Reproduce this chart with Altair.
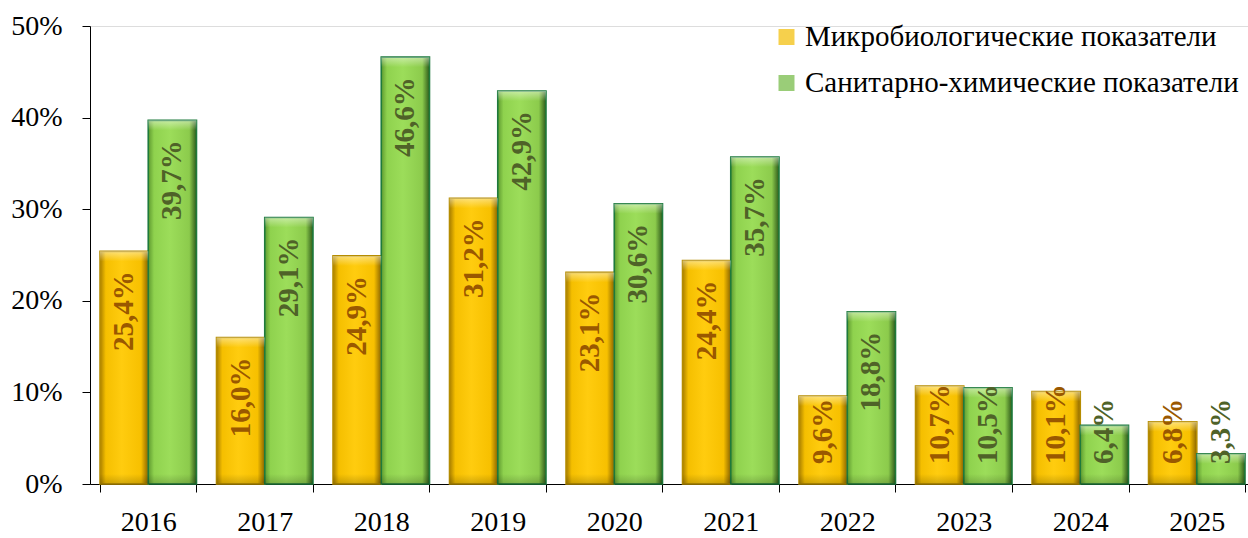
import altair as alt
import pandas as pd

years = ["2016", "2017", "2018", "2019", "2020", "2021", "2022", "2023", "2024", "2025"]
micro = [25.4, 16.0, 24.9, 31.2, 23.1, 24.4, 9.6, 10.7, 10.1, 6.8]
chem = [39.7, 29.1, 46.6, 42.9, 30.6, 35.7, 18.8, 10.5, 6.4, 3.3]
series_names = ["Микробиологические показатели", "Санитарно-химические показатели"]
y_ticks = [0, 10, 20, 30, 40, 50]

rows = []
for i, yr in enumerate(years):
    for s, vals in zip(series_names, [micro, chem]):
        v = vals[i]
        rows.append({"year": yr, "series": s, "value": v,
                     "label": f"{v:.1f}".replace(".", ",") + "%"})
df = pd.DataFrame(rows)

FONT = "Liberation Serif"
PX_PER_UNIT = 458 / 50.0
LABEL_FS = 29
AXIS_FS = 28
CAP = 10 / PX_PER_UNIT

grad_y = {"gradient": "linear", "x1": 0, "x2": 1, "y1": 0, "y2": 0,
          "stops": [{"offset": 0, "color": "#A87E00"},
                    {"offset": 0.12, "color": "#F5BF00"},
                    {"offset": 0.45, "color": "#FFCC0F"},
                    {"offset": 0.85, "color": "#F7C000"},
                    {"offset": 1, "color": "#8A6400"}]}
grad_g = {"gradient": "linear", "x1": 0, "x2": 1, "y1": 0, "y2": 0,
          "stops": [{"offset": 0, "color": "#5E9A30"},
                    {"offset": 0.12, "color": "#8FD24E"},
                    {"offset": 0.45, "color": "#9CDD5A"},
                    {"offset": 0.85, "color": "#8CCB4C"},
                    {"offset": 1, "color": "#2E5A1A"}]}
grad_cap = {"gradient": "linear", "x1": 0, "x2": 0, "y1": 0, "y2": 1,
            "stops": [{"offset": 0, "color": "rgba(255,255,255,0.45)"},
                      {"offset": 1, "color": "rgba(255,255,255,0)"}]}
grad_base = {"gradient": "linear", "x1": 0, "x2": 0, "y1": 0, "y2": 1,
             "stops": [{"offset": 0, "color": "rgba(0,0,0,0)"},
                       {"offset": 1, "color": "rgba(0,0,0,0.18)"}]}

is_micro = alt.datum.series == series_names[0]

x_enc = alt.X("year:N", sort=years,
              scale=alt.Scale(paddingInner=0.172, paddingOuter=0.0558, align=0.77),
              axis=alt.Axis(title=None, labelAngle=0, tickBand="extent", tickSize=8,
                            labelPadding=16, labelFont=FONT, labelFontSize=AXIS_FS,
                            labelColor="black", domainColor="black", tickColor="black",
                            grid=False))
xo_enc = alt.XOffset("series:N", sort=series_names, scale=alt.Scale(paddingInner=0, paddingOuter=0))
y_scale = alt.Scale(domain=[0, 50], nice=False)

bars = alt.Chart(df).mark_bar(strokeWidth=1.6).encode(
    x=x_enc,
    xOffset=xo_enc,
    y=alt.Y("value:Q", scale=y_scale,
            axis=alt.Axis(title=None, values=y_ticks, labelExpr="datum.value + '%'",
                          tickSize=8, labelPadding=20, labelFont=FONT, labelFontSize=AXIS_FS,
                          labelColor="black", domainColor="black", tickColor="black",
                          grid=False)),
    fill=alt.condition(is_micro, alt.value(grad_y), alt.value(grad_g)),
    stroke=alt.condition(is_micro, alt.value("#B58C00"), alt.value("#1E7A3C")),
)

top_cap = alt.Chart(df).transform_calculate(
    capb=f"datum.value - {CAP}"
).mark_bar(fill=grad_cap, strokeWidth=0).encode(
    x=alt.X("year:N", sort=years),
    xOffset=xo_enc,
    y=alt.Y("value:Q", scale=y_scale),
    y2="capb:Q",
)

bottom_cap = alt.Chart(df).transform_calculate(
    base="0", capt=f"{CAP}"
).mark_bar(fill=grad_base, strokeWidth=0).encode(
    x=alt.X("year:N", sort=years),
    xOffset=xo_enc,
    y=alt.Y("base:Q", scale=y_scale),
    y2="capt:Q",
)

labels = alt.Chart(df).transform_calculate(
    lenpx=f"((length(datum.label) - 2) * 0.5 + 1.25) * {LABEL_FS}",
).transform_calculate(
    ltop=f"max(datum.value - 20 / {PX_PER_UNIT}, (20 + datum.lenpx) / {PX_PER_UNIT})"
).mark_text(angle=270, align="right", baseline="middle", font=FONT,
            fontSize=LABEL_FS, fontWeight="bold").encode(
    x=alt.X("year:N", sort=years),
    xOffset=xo_enc,
    y=alt.Y("ltop:Q", scale=y_scale),
    text="label:N",
    color=alt.condition(is_micro, alt.value("#9A5800"), alt.value("#4F6228")),
)

legend_layer = alt.Chart(df).transform_filter("false").mark_square(size=256).encode(
    color=alt.Color("series:N",
                    scale=alt.Scale(domain=series_names, range=["#F2BC00", "#6FB83E"]),
                    legend=alt.Legend(title=None, orient="none", legendX=682, legendY=-3.5,
                                      direction="vertical", labelFont=FONT, labelFontSize=29,
                                      labelColor="black", symbolType="square", symbolSize=256,
                                      symbolStrokeWidth=0, rowPadding=16, labelOffset=4,
                                      labelLimit=700))
)

chart = alt.layer(bars, top_cap, bottom_cap, labels, legend_layer).resolve_scale(
    color="independent"
).properties(
    width=1158, height=458,
    autosize=alt.AutoSizeParams(type="none"),
    padding={"left": 90, "top": 26, "right": 0, "bottom": 54},
).configure_view(stroke=None).configure(background="white")

chart.save("out.html", embed_options={"renderer": "svg", "actions": False})
